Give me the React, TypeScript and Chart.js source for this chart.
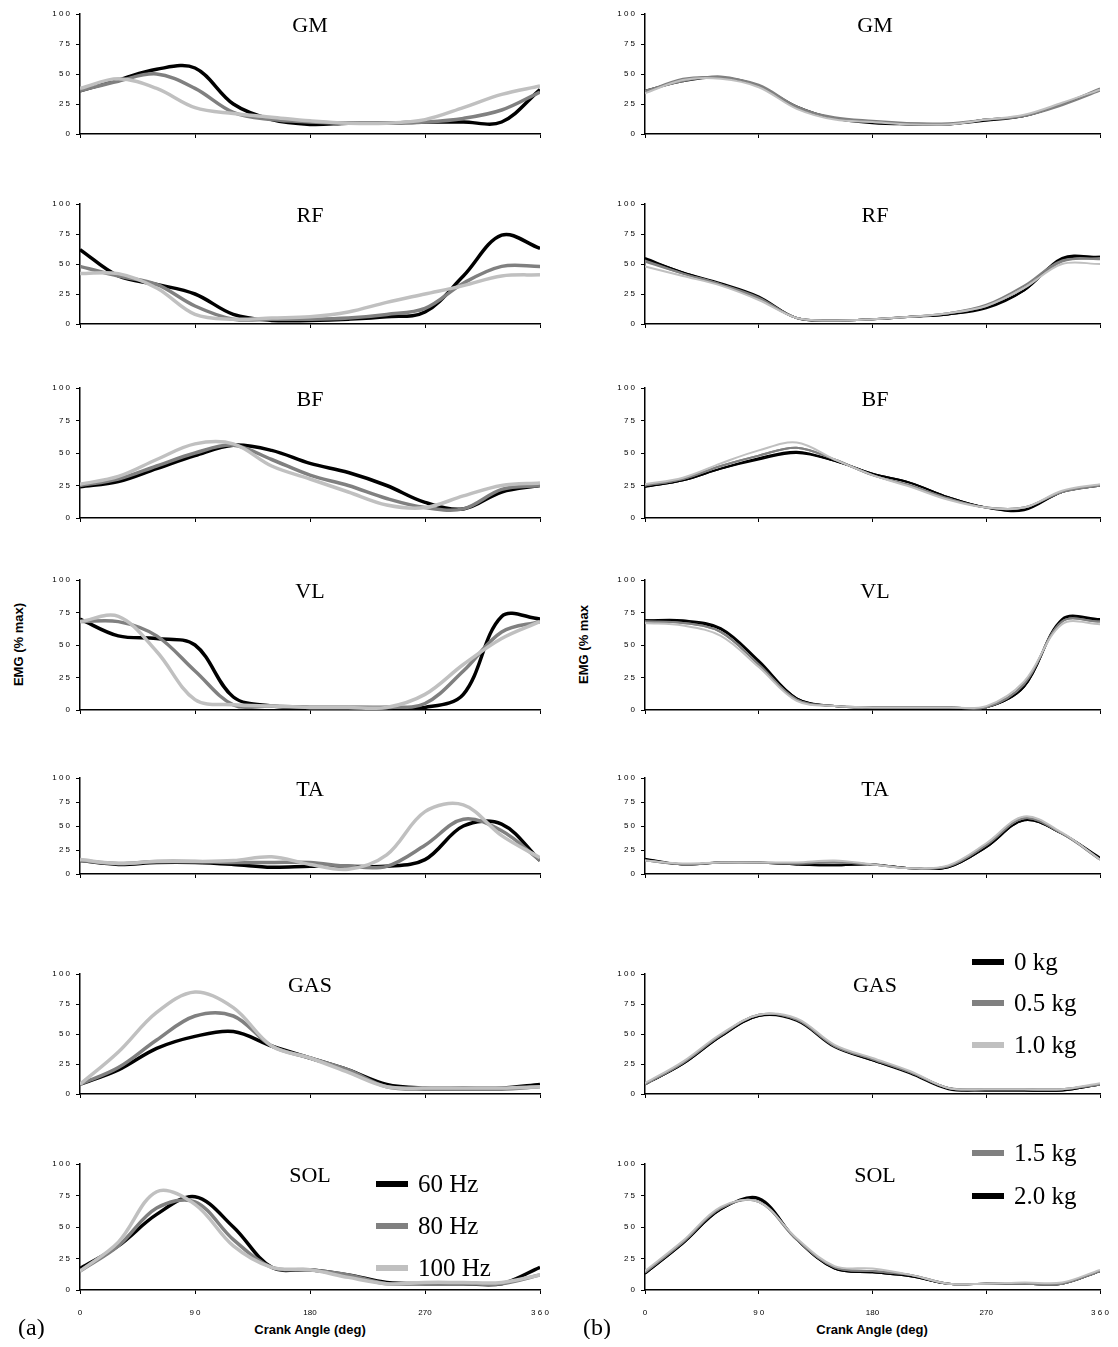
import React, { useEffect, useRef } from "react";
import { Chart, registerables } from "chart.js";
Chart.register(...registerables);

const angles = [0, 30, 60, 90, 120, 150, 180, 210, 240, 270, 300, 330, 360];
const muscles = ["GM", "RF", "BF", "VL", "TA", "GAS", "SOL"];
const freqLabels = ["60 Hz", "80 Hz", "100 Hz"];
const loadLabels = ["0 kg", "0.5 kg", "1.0 kg", "1.5 kg", "2.0 kg"];
const yTickLabels: Record<number, string> = { 0: "0", 25: "2 5", 50: "5 0", 75: "7 5", 100: "1 0 0" };
const xTickLabels: Record<number, string> = { 0: "0", 90: "9 0", 180: "180", 270: "270", 360: "3 6 0" };

// Left: frequency (60, 80, 100 Hz)
const gm60 = [36, 45, 54, 55, 25, 12, 8, 9, 9, 10, 10, 10, 37];
const gm80 = [36, 44, 50, 38, 18, 12, 10, 9, 9, 10, 13, 20, 35];
const gm100 = [38, 46, 38, 22, 17, 14, 11, 9, 9, 12, 22, 33, 40];
const rf60 = [62, 40, 33, 25, 8, 3, 3, 4, 6, 10, 40, 74, 63];
const rf80 = [48, 40, 33, 15, 4, 4, 4, 5, 8, 13, 34, 48, 48];
const rf100 = [42, 42, 30, 8, 4, 5, 6, 10, 18, 25, 32, 40, 41];
const bf60 = [24, 28, 38, 48, 56, 52, 42, 35, 25, 12, 7, 20, 25];
const bf80 = [25, 30, 40, 50, 56, 45, 33, 25, 15, 8, 7, 22, 25];
const bf100 = [26, 32, 45, 57, 57, 40, 30, 20, 10, 8, 17, 25, 27];
const vl60 = [70, 57, 55, 50, 10, 3, 2, 2, 2, 2, 12, 72, 70];
const vl80 = [68, 68, 57, 30, 4, 3, 2, 2, 2, 5, 30, 60, 68];
const vl100 = [68, 72, 45, 8, 4, 3, 2, 2, 2, 12, 35, 55, 68];
const ta60 = [14, 10, 12, 12, 10, 7, 8, 8, 8, 15, 50, 52, 14];
const ta80 = [14, 11, 13, 13, 12, 12, 12, 8, 8, 30, 57, 45, 14];
const ta100 = [15, 11, 13, 13, 14, 18, 10, 5, 20, 65, 72, 40, 17];
const gas60 = [8, 20, 38, 48, 52, 40, 30, 20, 8, 5, 5, 5, 8];
const gas80 = [8, 22, 45, 65, 65, 40, 30, 20, 6, 4, 4, 4, 6];
const gas100 = [8, 35, 68, 85, 72, 40, 30, 18, 6, 5, 5, 5, 6];
const sol60 = [17, 35, 60, 74, 50, 18, 16, 12, 6, 5, 5, 5, 18];
const sol80 = [15, 35, 65, 70, 40, 18, 16, 12, 5, 5, 5, 5, 12];
const sol100 = [15, 38, 78, 68, 35, 18, 16, 10, 5, 6, 6, 6, 12];

// Right: load (0, 0.5, 1.0, 1.5, 2.0 kg)
const gmK0 = [35, 45, 47, 40, 23, 13, 10, 8, 8, 12, 15, 25, 37];
const gmK05 = [36, 44, 48, 40, 22, 14, 11, 9, 8, 12, 15, 24, 36];
const gmK10 = [34, 45, 46, 39, 21, 12, 10, 8, 8, 12, 16, 26, 37];
const gmK15 = [35, 46, 47, 41, 23, 13, 10, 9, 9, 12, 15, 25, 38];
const gmK20 = [36, 44, 47, 40, 22, 13, 9, 8, 8, 11, 15, 25, 37];
const rfK0 = [54, 43, 33, 22, 5, 3, 4, 6, 8, 13, 28, 55, 56];
const rfK05 = [52, 42, 33, 21, 5, 3, 4, 6, 9, 16, 32, 53, 54];
const rfK10 = [48, 40, 32, 20, 5, 3, 4, 6, 9, 15, 30, 50, 50];
const rfK15 = [53, 42, 33, 22, 5, 3, 4, 6, 9, 15, 30, 52, 55];
const rfK20 = [55, 43, 34, 23, 5, 3, 4, 6, 8, 14, 28, 54, 56];
const bfK0 = [24, 29, 38, 45, 50, 44, 34, 27, 16, 8, 7, 20, 25];
const bfK05 = [25, 30, 40, 48, 54, 45, 33, 25, 15, 8, 8, 20, 25];
const bfK10 = [26, 31, 42, 52, 58, 45, 33, 24, 14, 8, 8, 21, 26];
const bfK15 = [25, 30, 40, 48, 54, 45, 33, 25, 15, 8, 8, 20, 25];
const bfK20 = [24, 29, 38, 46, 51, 44, 34, 27, 16, 8, 6, 20, 25];
const vlK0 = [69, 69, 63, 38, 9, 3, 2, 2, 2, 2, 18, 69, 69];
const vlK05 = [68, 67, 60, 35, 8, 3, 2, 2, 2, 2, 20, 68, 68];
const vlK10 = [67, 65, 57, 33, 7, 3, 2, 2, 2, 3, 22, 66, 66];
const vlK15 = [68, 67, 60, 35, 8, 3, 2, 2, 2, 2, 20, 68, 68];
const vlK20 = [69, 68, 62, 37, 9, 3, 2, 2, 2, 2, 18, 70, 70];
const taK0 = [15, 10, 12, 12, 10, 9, 10, 6, 7, 28, 56, 42, 16];
const taK05 = [14, 10, 12, 12, 11, 12, 10, 6, 8, 30, 58, 42, 15];
const taK10 = [14, 11, 12, 12, 12, 14, 10, 6, 9, 32, 60, 43, 15];
const taK15 = [14, 10, 12, 12, 11, 12, 10, 6, 8, 30, 58, 42, 15];
const taK20 = [16, 10, 12, 12, 10, 9, 10, 6, 7, 28, 56, 42, 17];
const gasK0 = [8, 25, 48, 65, 62, 40, 28, 18, 5, 3, 3, 3, 8];
const gasK05 = [8, 26, 49, 66, 62, 40, 29, 18, 5, 4, 4, 4, 8];
const gasK10 = [9, 27, 50, 66, 63, 41, 30, 19, 5, 4, 4, 4, 9];
const gasK15 = [8, 26, 49, 66, 62, 40, 29, 18, 5, 4, 4, 4, 8];
const gasK20 = [8, 25, 48, 65, 61, 39, 28, 17, 4, 3, 3, 3, 8];
const solK0 = [13, 37, 64, 72, 40, 17, 14, 11, 5, 5, 5, 5, 15];
const solK05 = [14, 38, 65, 70, 40, 18, 15, 12, 5, 5, 5, 5, 15];
const solK10 = [15, 39, 66, 70, 41, 19, 17, 12, 5, 5, 6, 6, 16];
const solK15 = [14, 38, 65, 70, 40, 18, 15, 12, 5, 5, 5, 5, 15];
const solK20 = [13, 37, 64, 73, 40, 17, 14, 11, 5, 5, 5, 5, 15];

const freqSeries = [
  [gm60, gm80, gm100], [rf60, rf80, rf100], [bf60, bf80, bf100], [vl60, vl80, vl100],
  [ta60, ta80, ta100], [gas60, gas80, gas100], [sol60, sol80, sol100],
];
const loadSeries = [
  [gmK0, gmK05, gmK10, gmK15, gmK20], [rfK0, rfK05, rfK10, rfK15, rfK20],
  [bfK0, bfK05, bfK10, bfK15, bfK20], [vlK0, vlK05, vlK10, vlK15, vlK20],
  [taK0, taK05, taK10, taK15, taK20], [gasK0, gasK05, gasK10, gasK15, gasK20],
  [solK0, solK05, solK10, solK15, solK20],
];

const BLACK = "#000000";
const DARK = "#808080";
const LIGHT = "#c0c0c0";
const freqColors = [BLACK, DARK, LIGHT];
const loadColors = [BLACK, DARK, LIGHT, DARK, BLACK];

const rowTops = [14, 204, 388, 580, 778, 974, 1164];
const rowBottoms = [134, 324, 518, 710, 874, 1094, 1290];
const colLeft = [80, 645];
const colRight = [540, 1100];

const PADL = 40, PADT = 6, PADR = 16, PADB = 30;

function Panel({ col, row }: { col: number; row: number }) {
  const ref = useRef<HTMLCanvasElement>(null);
  const series = col === 0 ? freqSeries[row] : loadSeries[row];
  const colors = col === 0 ? freqColors : loadColors;
  const labels = col === 0 ? freqLabels : loadLabels;
  const isBottom = row === 6;
  const w = colRight[col] - colLeft[col] + PADL + PADR;
  const h = rowBottoms[row] - rowTops[row] + PADT + PADB;
  useEffect(() => {
    const order = col === 0 ? [2, 1, 0] : [2, 1, 3, 0, 4];
    const chart = new Chart(ref.current!, {
      type: "line",
      data: {
        datasets: order.map((i) => ({
          label: labels[i],
          data: angles.map((a, k) => ({ x: a, y: series[i][k] })),
          borderColor: colors[i],
          borderWidth: col === 0 ? 3.5 : 2,
          pointRadius: 0,
          tension: 0.35,
        })),
      },
      options: {
        animation: false,
        responsive: false,
        layout: { padding: { top: PADT, right: PADR, left: 0, bottom: 0 } },
        plugins: { legend: { display: false }, tooltip: { enabled: false } },
        scales: {
          x: {
            type: "linear", min: 0, max: 360,
            afterBuildTicks: (s: any) => { s.ticks = [0, 90, 180, 270, 360].map((v) => ({ value: v })); },
            afterFit: (s: any) => { s.height = PADB; s.paddingLeft = 0; s.paddingRight = 0; },
            grid: { drawOnChartArea: false, drawTicks: true, tickLength: 4, color: "#000" },
            border: { color: "#000", width: 1.5 },
            ticks: {
              display: isBottom, padding: 14, maxRotation: 0,
              font: { family: "Arial", size: 8 }, color: "#000",
              callback: (v: any) => xTickLabels[v] ?? "",
            },
          },
          y: {
            min: 0, max: 100,
            afterBuildTicks: (s: any) => { s.ticks = [0, 25, 50, 75, 100].map((v) => ({ value: v })); },
            afterFit: (s: any) => { s.width = PADL; s.paddingTop = 0; s.paddingBottom = 0; },
            grid: { drawOnChartArea: false, drawTicks: true, tickLength: 4, color: "#000" },
            border: { color: "#000", width: 1.5 },
            ticks: {
              padding: 6, font: { family: "Arial", size: 8 }, color: "#000",
              callback: (v: any) => yTickLabels[v] ?? "",
            },
          },
        },
      },
    } as any);
    return () => chart.destroy();
  }, []);
  return (
    <>
      <canvas
        ref={ref}
        width={w}
        height={h}
        style={{ position: "absolute", left: colLeft[col] - PADL, top: rowTops[row] - PADT, width: w, height: h }}
      />
      <div style={{
        position: "absolute", top: rowTops[row] - 2,
        left: (col === 0 ? 310 : 875) - 40, width: 80, textAlign: "center",
        fontFamily: "'Liberation Serif', serif", fontSize: 22,
      }}>{muscles[row]}</div>
    </>
  );
}

const legendLeft = [
  { label: freqLabels[0], color: BLACK, y: 1184 },
  { label: freqLabels[1], color: DARK, y: 1226 },
  { label: freqLabels[2], color: LIGHT, y: 1268 },
];
const legendRight = [
  { label: loadLabels[0], color: BLACK, y: 962 },
  { label: loadLabels[1], color: DARK, y: 1003 },
  { label: loadLabels[2], color: LIGHT, y: 1045 },
  { label: loadLabels[3], color: DARK, y: 1153 },
  { label: loadLabels[4], color: BLACK, y: 1196 },
];

function Legend({ items, x }: { items: { label: string; color: string; y: number }[]; x: number }) {
  return (
    <>
      {items.map((it) => (
        <div key={it.label} style={{ position: "absolute", left: x, top: it.y - 15, height: 30, display: "flex", alignItems: "center" }}>
          <div style={{ width: 32, height: 6, background: it.color, marginRight: 10 }} />
          <span style={{ fontFamily: "'Liberation Serif', serif", fontSize: 25 }}>{it.label}</span>
        </div>
      ))}
    </>
  );
}

export default function App() {
  const cells: JSX.Element[] = [];
  for (let c = 0; c < 2; c++) for (let r = 0; r < 7; r++) cells.push(<Panel key={c + "-" + r} col={c} row={r} />);
  const axisTitle = { position: "absolute" as const, fontFamily: "Arial, 'Liberation Sans'", fontWeight: "bold" as const, fontSize: 13 };
  return (
    <div style={{ position: "relative", width: 1118, height: 1347, margin: -8, background: "#fff" }}>
      {cells}
      <div style={{ ...axisTitle, left: 18 - 60, top: 645 - 8, width: 120, textAlign: "center", transform: "rotate(-90deg)" }}>EMG (% max)</div>
      <div style={{ ...axisTitle, left: 583 - 60, top: 645 - 8, width: 120, textAlign: "center", transform: "rotate(-90deg)" }}>EMG (% max</div>
      <div style={{ ...axisTitle, left: 210, top: 1322, width: 200, textAlign: "center" }}>Crank Angle (deg)</div>
      <div style={{ ...axisTitle, left: 772, top: 1322, width: 200, textAlign: "center" }}>Crank Angle (deg)</div>
      <div style={{ position: "absolute", left: 18, top: 1314, fontFamily: "'Liberation Serif', serif", fontSize: 24 }}>(a)</div>
      <div style={{ position: "absolute", left: 583, top: 1314, fontFamily: "'Liberation Serif', serif", fontSize: 24 }}>(b)</div>
      <Legend items={legendLeft} x={376} />
      <Legend items={legendRight} x={972} />
    </div>
  );
}
